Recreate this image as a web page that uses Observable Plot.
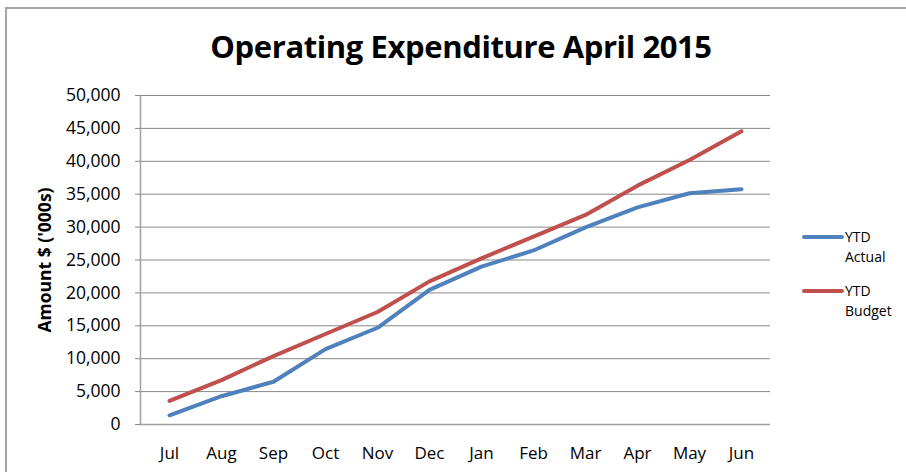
<!DOCTYPE html>
<html>
<head>
<meta charset="utf-8">
<script src="https://cdn.jsdelivr.net/npm/d3@7"></script>
<script src="https://cdn.jsdelivr.net/npm/@observablehq/plot@0.6"></script>
<style>
  html, body { margin: 0; padding: 0; width: 906px; height: 472px; overflow: hidden; background: #fff; font-family: "Open Sans", "Noto Sans", sans-serif; }
  #wrap { position: relative; width: 906px; height: 472px; }
  #border { position: absolute; left: 5px; top: 7px; width: 1200px; height: 1200px; border: 2px solid #a3a3a3; box-sizing: border-box; }
  #title { position: absolute; left: 0; width: 922px; top: 25px; text-align: center; font-size: 31px; font-weight: bold; color: #000; letter-spacing: -0.4px; }
  #chart { position: absolute; left: 0; top: 0; }
  .leg { position: absolute; font-size: 14px; line-height: 20px; color: #000; }
  .leg .sw { position: absolute; width: 42px; height: 4px; border-radius: 2px; }
</style>
</head>
<body>
<div id="wrap">
  <div id="border"></div>
  <div id="chart"></div>
  <div id="title">Operating Expenditure April 2015</div>
  <div class="leg" style="left:802px; top:227px;"><div class="sw" style="left:0; top:8px; background:#4F81BD"></div><div style="margin-left:43px">YTD<br>Actual</div></div>
  <div class="leg" style="left:802px; top:281px;"><div class="sw" style="left:0; top:8px; background:#C0504D"></div><div style="margin-left:43px">YTD<br>Budget</div></div>
</div>
<script>
const months = ["Jul","Aug","Sep","Oct","Nov","Dec","Jan","Feb","Mar","Apr","May","Jun"];
const ytdActual = [1400, 4300, 6500, 11450, 14700, 20450, 24000, 26450, 29950, 33000, 35150, 35750];
const ytdBudget = [3600, 6750, 10400, 13750, 17100, 21750, 25250, 28550, 31850, 36300, 40200, 44550];
const yTicks = [0, 5000, 10000, 15000, 20000, 25000, 30000, 35000, 40000, 45000, 50000];
const seriesNames = ["YTD Actual", "YTD Budget"];
const seriesColors = ["#4F81BD", "#C0504D"];

const data = [];
months.forEach((m, i) => {
  data.push({month: m, value: ytdActual[i], series: seriesNames[0]});
});
months.forEach((m, i) => {
  data.push({month: m, value: ytdBudget[i], series: seriesNames[1]});
});

const chart = Plot.plot({
  width: 906,
  height: 472,
  marginLeft: 140,
  marginRight: 136,
  marginTop: 95,
  marginBottom: 48,
  style: {fontFamily: "'Open Sans', 'Noto Sans', sans-serif", fontSize: "17px", color: "#000", background: "transparent"},
  x: {type: "point", domain: months, padding: 0.5, label: null},
  y: {domain: [0, 50000], ticks: yTicks, label: null},
  color: {domain: seriesNames, range: seriesColors},
  marks: [
    Plot.ruleY(yTicks.slice(1), {stroke: "#878787", strokeWidth: 1}),
    Plot.ruleY([0], {stroke: "#a0a0a0", strokeWidth: 1.5}),
    Plot.frame({anchor: "left", stroke: "#a0a0a0", strokeWidth: 1.5}),
    Plot.axisY({ticks: yTicks, tickFormat: d3.format(","), tickSize: 5, tickPadding: 15, stroke: "#878787", fontSize: 17.5, label: null}),
    Plot.axisX({tickSize: 0, tickPadding: 22, fontSize: 17, label: null}),
    Plot.text(["Amount $ ('000s)"], {frameAnchor: "left", textAnchor: "middle", dx: -95, rotate: -90, fontWeight: "bold", fontSize: 17.5}),
    Plot.lineY(data, {x: "month", y: "value", stroke: "series", strokeWidth: 4, strokeLinejoin: "round", strokeLinecap: "round"})
  ]
});
document.getElementById("chart").appendChild(chart);
</script>
</body>
</html>
